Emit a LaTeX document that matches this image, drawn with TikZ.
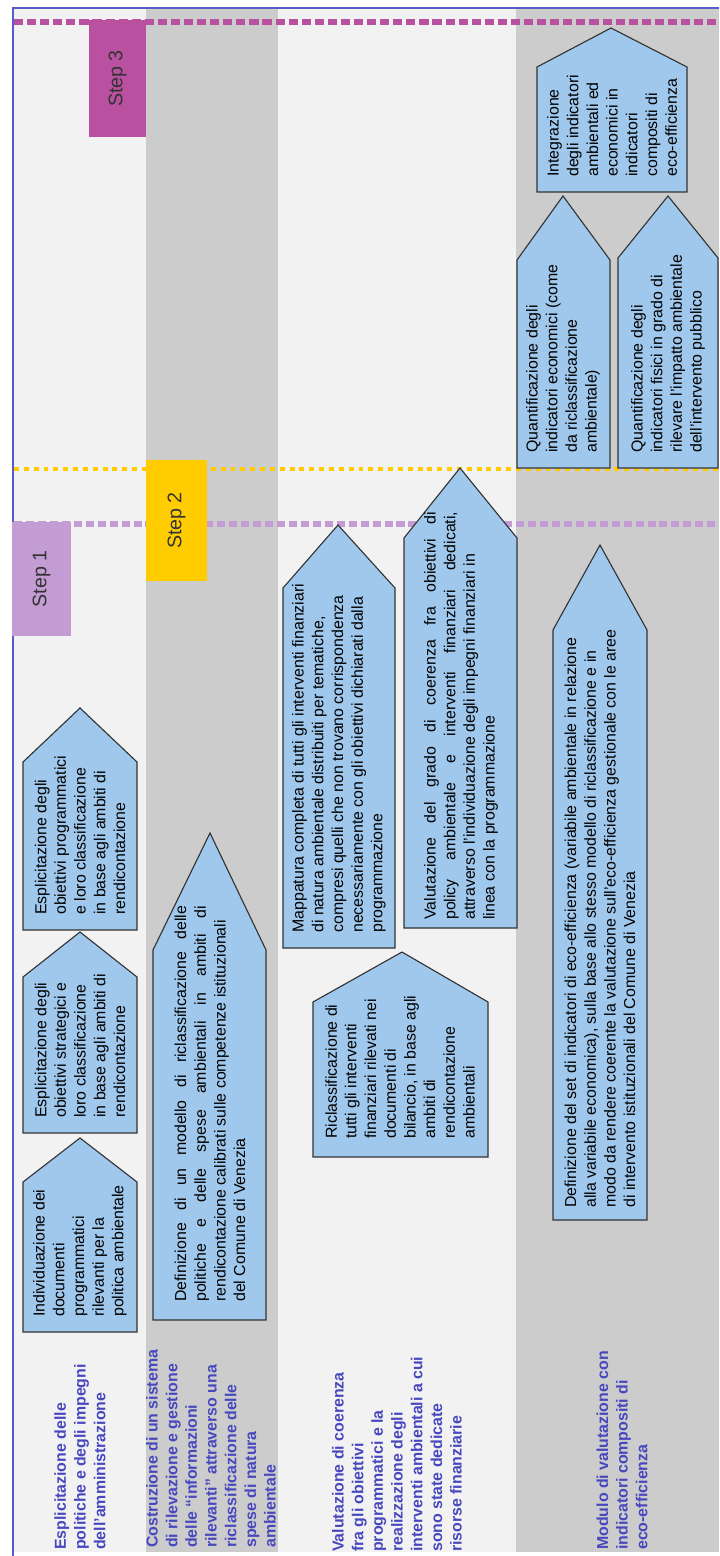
\documentclass[tikz,border=0pt]{standalone}
\usepackage{fontspec}
\setmainfont{Liberation Sans}
\definecolor{lanelight}{RGB}{242,242,242}
\definecolor{lanegray}{RGB}{204,204,204}
\definecolor{boxblue}{RGB}{160,200,236}
\definecolor{titleblue}{RGB}{72,72,190}
\definecolor{framecol}{RGB}{90,90,200}
\definecolor{stepthree}{RGB}{186,80,160}
\definecolor{steptwo}{RGB}{255,204,0}
\definecolor{stepone}{RGB}{196,156,212}
\begin{document}
\begin{tikzpicture}[x=0.025cm,y=-0.025cm,
    pentabox/.style={fill=boxblue,draw=black!80,line width=0.8pt},
    boxtext/.style={rotate=90,anchor=west,inner sep=0pt,align=left,
      font=\fontsize{11.3}{14}\selectfont},
    boxjust/.style={boxtext,align=justify,text width=9.9cm},
    lanetitle/.style={rotate=90,anchor=west,inner sep=0pt,align=left,
      text=titleblue,font=\bfseries\fontsize{11.3}{14}\selectfont},
    stepbox/.style={rotate=90,inner sep=0pt,text=black!80,
      font=\fontsize{14}{16}\selectfont}]
  \useasboundingbox (0,0) rectangle (719,1556);
  % lanes
  \fill[lanelight] (14,8) rectangle (146,1552);
  \fill[lanegray] (146,8) rectangle (278,1552);
  \fill[lanelight] (278,8) rectangle (516,1552);
  \fill[lanegray] (516,8) rectangle (719,1552);
  \draw[framecol,line width=0.9pt] (13,1556) -- (13,8) -- (719,8);
  % step lines
  \draw[stepthree,line width=4.2pt,dash pattern=on 6.5pt off 2.8pt] (14,22) -- (719,22);
  \draw[steptwo,line width=3.2pt,dash pattern=on 3.5pt off 3.5pt] (14,469) -- (719,469);
  \draw[stepone,line width=4.2pt,dash pattern=on 5.7pt off 2.8pt] (14,524) -- (719,524);
  % steps
  \node[stepbox,fill=stepthree,minimum width=2.925cm,minimum height=1.425cm] (step3) at (117.5,78.5) {Step 3};
  \node[stepbox,fill=steptwo,minimum width=3.025cm,minimum height=1.525cm] (step2) at (176.5,520.5) {Step 2};
  \node[stepbox,fill=stepone,minimum width=2.85cm,minimum height=1.475cm] (step1) at (41.5,579) {Step 1};
  % lane 1
  \draw[pentabox] (23,930) -- (23,762) -- (80,708) -- (137,762) -- (137,930) -- cycle;
  \draw[pentabox] (23,1133) -- (23,977) -- (80,932) -- (137,977) -- (137,1133) -- cycle;
  \draw[pentabox] (23,1332) -- (23,1182) -- (80,1138) -- (137,1182) -- (137,1332) -- cycle;
  \node[boxtext] (progr) at (80,915) {Esplicitazione degli\\obiettivi programmatici\\e loro classificazione\\in base agli ambiti di\\rendicontazione};
  \node[boxtext] (strat) at (80,1118) {Esplicitazione degli\\obiettivi strategici e\\loro classificazione\\in base agli ambiti di\\rendicontazione};
  \node[boxtext] (docum) at (80,1317) {Individuazione dei\\documenti\\programmatici\\rilevanti per la\\politica ambientale};
  % lane 2
  \draw[pentabox] (153,1320) -- (153,950) -- (210,833) -- (266,950) -- (266,1320) -- cycle;
  \node[boxjust] (model) at (210,1302) {Definizione di un modello di riclassificazione delle\linebreak
    politiche e delle spese ambientali in ambiti di\linebreak
    rendicontazione calibrati sulle competenze istituzionali\\
    del Comune di Venezia};
  % lane 3
  \draw[pentabox] (283,948) -- (283,588) -- (338,525) -- (395,588) -- (395,948) -- cycle;
  \draw[pentabox] (404,928) -- (404,538) -- (460,468) -- (517,538) -- (517,928) -- cycle;
  \draw[pentabox] (313,1157) -- (313,1002) -- (402,952) -- (488,1002) -- (488,1157) -- cycle;
  \node[boxtext] (mapp) at (339,933) {Mappatura completa di tutti gli interventi finanziari\\
    di natura ambientale distribuiti per tematiche,\\
    compresi quelli che non trovano corrispondenza\\
    necessariamente con gli obiettivi dichiarati dalla\\
    programmazione};
  \node[boxjust,text width=10.2cm] (coer) at (461,920) {Valutazione del grado di coerenza fra obiettivi di\linebreak
    policy ambientale e interventi finanziari dedicati,\linebreak
    attraverso l'individuazione degli impegni finanziari in\\
    linea con la programmazione};
  \node[boxtext] (ricl) at (400,1139) {Riclassificazione di\\tutti gli interventi\\finanziari rilevati nei\\documenti di\\bilancio, in base agli\\ambiti di\\rendicontazione\\ambientali};
  % lane 4
  \draw[pentabox] (537,192) -- (537,67) -- (611,28) -- (687,67) -- (687,192) -- cycle;
  \draw[pentabox] (517,468) -- (517,260) -- (563,196) -- (610,260) -- (610,468) -- cycle;
  \draw[pentabox] (618,468) -- (618,258) -- (668,196) -- (718,258) -- (718,468) -- cycle;
  \draw[pentabox] (553,1220) -- (553,630) -- (600,545) -- (647,630) -- (647,1220) -- cycle;
  \node[boxtext] (integr) at (612,177) {Integrazione\\degli indicatori\\ambientali ed\\economici in\\indicatori\\compositi di\\eco-efficienza};
  \node[boxtext] (econ) at (563,453) {Quantificazione degli\\indicatori economici (come\\da riclassificazione\\ambientale)};
  \node[boxtext] (fisici) at (668,453) {Quantificazione degli\\indicatori fisici in grado di\\rilevare l'impatto ambientale\\dell'intervento pubblico};
  \node[boxtext] (setind) at (600,1208) {Definizione del set di indicatori di eco-efficienza (variabile ambientale in relazione\\
    alla variabile economica), sulla base allo stesso modello di riclassificazione e in\\
    modo da rendere coerente la valutazione sull'eco-efficienza gestionale con le aree\\
    di intervento istituzionali del Comune di Venezia};
  % lane titles
  \node[lanetitle] (title1) at (80,1550) {Esplicitazione delle\\politiche e degli impegni\\dell'amministrazione};
  \node[lanetitle] (title2) at (211,1548) {Costruzione di un sistema\\di rilevazione e gestione\\delle “informazioni\\rilevanti” attraverso una\\riclassificazione delle\\spese di natura\\ambientale};
  \node[lanetitle] (title3) at (397,1552) {Valutazione di coerenza\\fra gli obiettivi\\programmatici e la\\realizzazione degli\\interventi ambientali a cui\\sono state dedicate\\risorse finanziarie};
  \node[lanetitle] (title4) at (622,1550) {Modulo di valutazione con\\indicatori compositi di\\eco-efficienza};
\end{tikzpicture}
\end{document}
